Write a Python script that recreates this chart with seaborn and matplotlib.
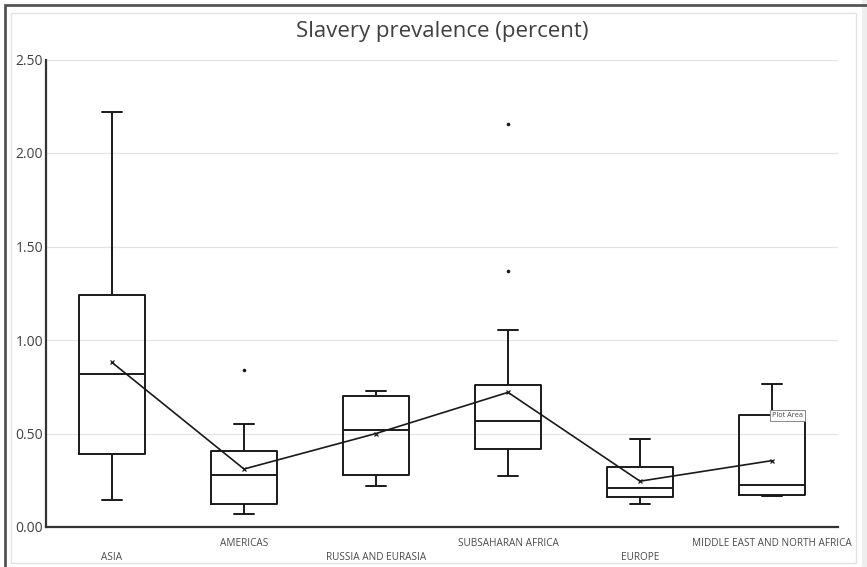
import numpy as np
import pandas as pd
import matplotlib
matplotlib.use("Agg")
import matplotlib.pyplot as plt
from matplotlib.patches import Rectangle
from matplotlib.transforms import ScaledTranslation
import seaborn as sns

# Five-number summary per region.
regions = ["ASIA", "AMERICAS", "RUSSIA AND EURASIA", "SUBSAHARAN AFRICA",
           "EUROPE", "MIDDLE EAST AND NORTH AFRICA"]
whisker_low = [0.145, 0.07, 0.22, 0.275, 0.125, 0.165]
q1 = [0.39, 0.125, 0.28, 0.415, 0.16, 0.172]
median = [0.82, 0.28, 0.52, 0.565, 0.21, 0.225]
q3 = [1.24, 0.405, 0.70, 0.76, 0.32, 0.60]
whisker_high = [2.22, 0.55, 0.725, 1.055, 0.47, 0.765]
means = [0.88, 0.31, 0.50, 0.72, 0.245, 0.355]
outlier_regions = ["AMERICAS", "SUBSAHARAN AFRICA", "SUBSAHARAN AFRICA"]
outlier_values = [0.84, 1.37, 2.155]
yticks = [0.0, 0.5, 1.0, 1.5, 2.0, 2.5]

# long table: five points per region give exactly these quartiles
rows = []
for i, r in enumerate(regions):
    for v in (whisker_low[i], q1[i], median[i], q3[i], whisker_high[i]):
        rows.append({"region": r, "value": v})
box_df = pd.DataFrame(rows)

sns.set_style("white")
plt.rcParams["font.family"] = ["Open Sans", "DejaVu Sans"]

fig = plt.figure(figsize=(8.67, 5.67), dpi=100)
W, H = 867, 567

# outer frame and light inner panel (behind the axes)
fig.patches.append(Rectangle((862 / W, 0), 5 / W, 1, transform=fig.transFigure,
                             facecolor="#eeeeee", edgecolor="none", zorder=-3))
fig.patches.append(Rectangle((11 / W, 4 / H), 845 / W, 550 / H, transform=fig.transFigure,
                             facecolor="white", edgecolor="#e2e2e2", lw=1.0, zorder=-2))
fig.patches.append(Rectangle((4.5 / W, -0.1), 2, (H - 4.5) / H + 0.1, transform=fig.transFigure,
                             facecolor="none", edgecolor="#555555", lw=2.0, zorder=-1))

ax = fig.add_axes([46 / W, 1 - 527 / H, 792 / W, (527 - 59.5) / H])
ax.set_facecolor("none")

lc = "#1a1a1a"
sns.boxplot(data=box_df, x="region", y="value", order=regions, whis=np.inf,
            width=0.5, fill=False, color=lc, linecolor=lc, linewidth=1.4,
            showfliers=False, capwidths=0.15, ax=ax)
sns.pointplot(x=regions, y=means, order=regions, color=lc, markers="x",
              markersize=2.5, linewidth=1.2, errorbar=None, ax=ax)
sns.stripplot(x=outlier_regions, y=outlier_values, order=regions, jitter=False,
              color=lc, size=2.6, ax=ax)

ax.set_ylim(0, 2.5)
ax.set_xlim(-0.5, 5.5)
ax.set_yticks(yticks)
ax.set_yticklabels([f"{t:.2f}" for t in yticks], fontsize=10, color="#404040")
ax.yaxis.grid(True, color="#e4e4e4", lw=0.9)
ax.set_axisbelow(True)
ax.tick_params(axis="y", length=0, pad=2)
ax.tick_params(axis="x", length=0, pad=8)
ax.set_xticks(range(len(regions)))
ax.set_xticklabels(regions, fontsize=7.2, color="#4a4a4a")
shift = ScaledTranslation(0, -0.14, fig.dpi_scale_trans)
for i, lab in enumerate(ax.get_xticklabels()):
    if i % 2 == 0:
        lab.set_transform(lab.get_transform() + shift)
ax.set_xlabel("")
ax.set_ylabel("")
for side in ("top", "right"):
    ax.spines[side].set_visible(False)
for side in ("left", "bottom"):
    ax.spines[side].set_color("#333333")
    ax.spines[side].set_linewidth(1.6)

fig.text(442 / W, 1 - 31 / H, "Slavery prevalence (percent)", ha="center", va="center",
         fontsize=16, color="#404040")

# the "Plot Area" tooltip captured in the screenshot
ax.text(5.0, 0.597, "Plot Area", fontsize=5.2, color="#444444", ha="left", va="center",
        bbox=dict(boxstyle="square,pad=0.3", facecolor="white", edgecolor="#888888", lw=0.7),
        zorder=5)

fig.savefig("out.png", dpi=100)
